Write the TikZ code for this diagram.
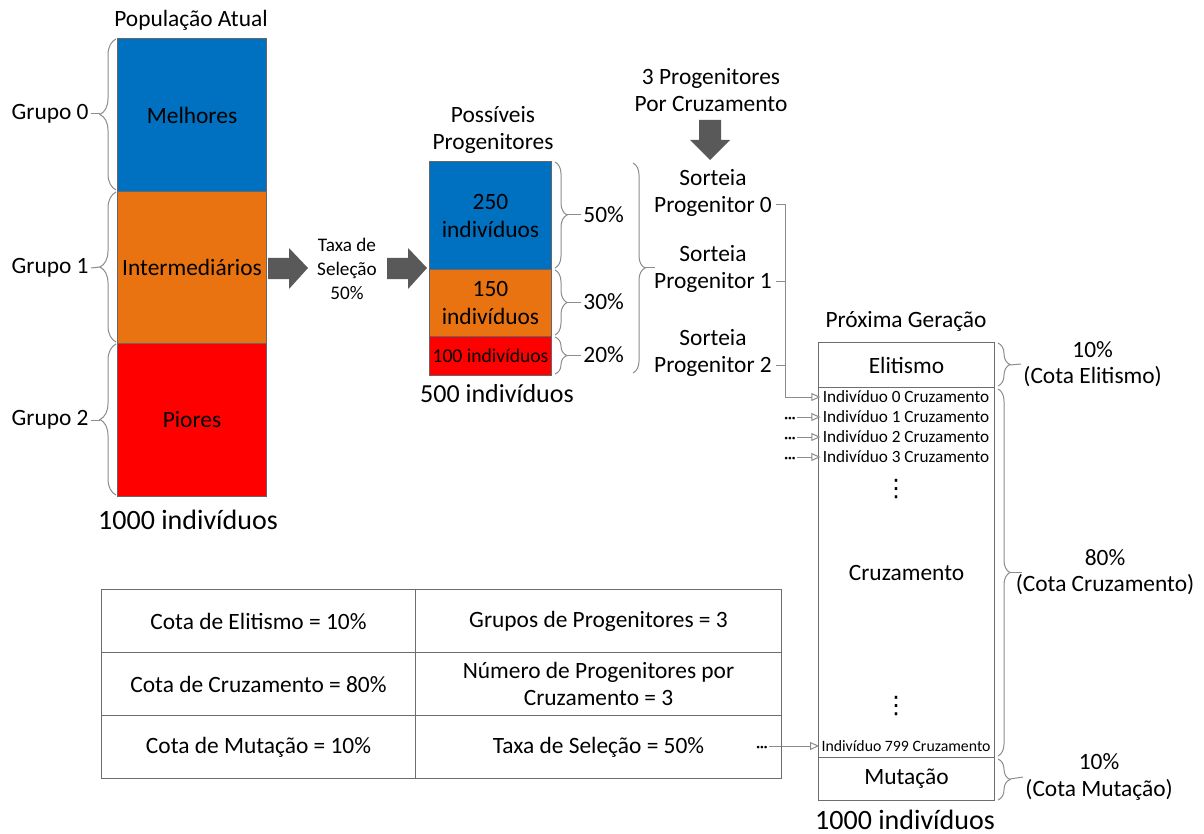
\documentclass[tikz,border=0pt]{standalone}
\usepackage{fontspec}
\setmainfont{Carlito}
\newfontfamily\symfont{DejaVu Sans}
\usetikzlibrary{arrows.meta,decorations.pathreplacing,calc}
\definecolor{popblue}{HTML}{0070C0}
\definecolor{poporange}{HTML}{E97311}
\definecolor{popred}{HTML}{FF0000}
\definecolor{blockgray}{HTML}{595959}
\definecolor{linegray}{HTML}{8C8C8C}
\definecolor{framegray}{HTML}{6E6E6E}

\begin{document}
\begin{tikzpicture}[x=0.5pt,y=-0.5pt,
  txt/.style={font=\fontsize{11.7}{13.3}\selectfont, align=center, inner sep=1pt},
  bigtxt/.style={font=\fontsize{14}{16}\selectfont, inner sep=1pt},
  midtxt/.style={font=\fontsize{13}{15}\selectfont, inner sep=1pt},
  smalltxt/.style={font=\fontsize{9.6}{12}\selectfont, align=center, inner sep=1pt},
  block/.style={draw=black!60, line width=0.5pt, inner sep=0pt, anchor=north west,
    font=\fontsize{11.7}{14}\selectfont, align=center},
  gbox/.style={draw=framegray, line width=0.5pt, inner sep=0pt, anchor=north west,
    minimum width=88pt, font=\fontsize{11.7}{13.3}\selectfont},
  rowtxt/.style={font=\fontsize{8.6}{10}\selectfont, inner sep=1pt},
  dotstxt/.style={font=\bfseries\fontsize{7}{7}\selectfont, inner sep=0.5pt},
  vdotstxt/.style={font=\symfont\fontsize{12}{12}\selectfont, inner sep=0pt},
  cellL/.style={draw=framegray, line width=0.5pt, minimum width=157pt, minimum height=31.5pt,
    anchor=north west, inner sep=0pt, font=\fontsize{11.7}{13.5}\selectfont, align=center},
  cellR/.style={cellL, minimum width=183pt},
  bracel/.style={decorate, decoration={brace, amplitude=8pt}, draw=linegray, line width=0.5pt},
  bracer/.style={decorate, decoration={brace, amplitude=#1}, draw=linegray, line width=0.5pt},
  tick/.style={draw=linegray, line width=0.5pt},
  conn/.style={draw=linegray, line width=0.5pt},
  feed/.style={conn, -{Triangle[open, length=4.5pt, width=4pt]}}
]
\useasboundingbox (0,0) rectangle (1204,834);

% ---------- current population ----------
\node[txt] (popt) at (191,20) {População Atual};
\node[block, fill=popblue, minimum width=74.5pt, minimum height=76.5pt] (best) at (117,38) {Melhores};
\node[block, fill=poporange, minimum width=74.5pt, minimum height=76pt] (midg) at (117,191) {Intermediários};
\node[block, fill=popred, minimum width=74.5pt, minimum height=76.5pt] (worst) at (117,343) {Piores};
\node[bigtxt] (popn) at (188,520) {1000 indivíduos};

\draw[bracel] (116,190) -- (116,39);
\draw[bracel] (116,342) -- (116,192);
\draw[bracel] (116,495) -- (116,344);
\node[txt, anchor=east] (g0) at (91,114) {Grupo 0};
\node[txt, anchor=east] (g1) at (91,268) {Grupo 1};
\node[txt, anchor=east] (g2) at (91,420) {Grupo 2};
\coordinate (g0tip) at (100,114);
\coordinate (g1tip) at (100,267);
\coordinate (g2tip) at (100,420);
\draw[tick] (g0.east) -- (g0tip);
\draw[tick] (g1.east) -- (g1tip);
\draw[tick] (g2.east) -- (g2tip);

% ---------- selection arrows ----------
\fill[blockgray] (268,258) -- (289,258) -- (289,248) -- (308,268) -- (289,289) -- (289,279) -- (268,279) -- cycle;
\node[smalltxt] (rate) at (347,269) {Taxa de\\Seleção\\50\%};
\fill[blockgray] (387,258) -- (408,258) -- (408,248) -- (427,268) -- (408,289) -- (408,279) -- (387,279) -- cycle;

% ---------- possible parents ----------
\node[txt] (posst) at (493,130) {Possíveis\\Progenitores};
\node[block, fill=popblue, minimum width=61pt, minimum height=54pt] (p250) at (429,161) {250\\indivíduos};
\node[block, fill=poporange, minimum width=61pt, minimum height=33.5pt] (p150) at (429,269) {150\\indivíduos};
\node[block, fill=popred, minimum width=61pt, minimum height=19.5pt, font=\fontsize{9.8}{11}\selectfont] (p100) at (429,336) {100 indivíduos};
\node[midtxt] (possn) at (497,394) {500 indivíduos};

\draw[bracer=6pt] (555,162) -- (555,268);
\draw[bracer=6pt] (555,270) -- (555,335);
\draw[bracer=6pt] (555,337) -- (555,374);
\coordinate (b50) at (567,215);
\coordinate (b30) at (567,302);
\coordinate (b20) at (567,355);
\node[txt, anchor=west] (l50) at (581,215) {50\%};
\node[txt, anchor=west] (l30) at (581,302) {30\%};
\node[txt, anchor=west] (l20) at (581,355) {20\%};
\draw[tick] (b50) -- (l50.west);
\draw[tick] (b30) -- (l30.west);
\draw[tick] (b20) -- (l20.west);

\draw[bracer=6pt] (633,163) -- (633,373);
\coordinate (ball) at (645,268);
\coordinate (balle) at (655,268);
\draw[tick] (ball) -- (balle);

% ---------- parent draw ----------
\node[txt] (ppc) at (711,90) {3 Progenitores\\Por Cruzamento};
\fill[blockgray] (699,120) -- (721,120) -- (721,140) -- (730,140) -- (710,160) -- (690,140) -- (699,140) -- cycle;

\node[txt] (s0) at (713,193) {Sorteia\\Progenitor 0};
\node[txt] (s1) at (713,269) {Sorteia\\Progenitor 1};
\node[txt] (s2) at (713,353) {Sorteia\\Progenitor 2};
\coordinate (a0) at ($(s0.east)+(2,12)$);
\coordinate (a1) at ($(s1.east)+(2,12)$);
\coordinate (a2) at ($(s2.east)+(2,12)$);
\coordinate (bus) at (785,397);

% ---------- next generation ----------
\node[txt] (nextt) at (906,321) {Próxima Geração};
\node[gbox, minimum height=22.5pt] (elit) at (818,342) {Elitismo};
\node[gbox, minimum height=185pt] (cruz) at (818,387) {Cruzamento};
\node[gbox, minimum height=21.5pt] (mut) at (818,757) {Mutação};
\node[bigtxt] (nextn) at (905,820) {1000 indivíduos};

\node[rowtxt] (r0) at (906,397) {Indivíduo 0 Cruzamento};
\node[rowtxt] (r1) at (906,417) {Indivíduo 1 Cruzamento};
\node[rowtxt] (r2) at (906,437) {Indivíduo 2 Cruzamento};
\node[rowtxt] (r3) at (906,457) {Indivíduo 3 Cruzamento};
\node[rowtxt, font=\fontsize{7.9}{9}\selectfont] (r799) at (906,746) {Indivíduo 799 Cruzamento};
\node[vdotstxt] (vd1) at (896,489) {⋮};
\node[vdotstxt] (vd2) at (896,706) {⋮};

\node[dotstxt] (d1) at (790,420) {···};
\node[dotstxt] (d2) at (790,440) {···};
\node[dotstxt] (d3) at (790,460) {···};
\node[dotstxt] (d799) at (762,749) {···};

\draw[feed] (a0) -| (bus) -- (r0.west);
\draw[conn] (a1) -- (a1 -| bus);
\draw[conn] (a2) -- (a2 -| bus);
\draw[feed] (d1.east |- r1.west) -- (r1.west);
\draw[feed] (d2.east |- r2.west) -- (r2.west);
\draw[feed] (d3.east |- r3.west) -- (r3.west);
\draw[feed] (d799.east |- r799.west) -- (r799.west);

\draw[bracer=6pt] (998,343) -- (998,386);
\draw[bracer=6pt] (998,389) -- (998,756);
\draw[bracer=6pt] (998,759) -- (998,800);
\coordinate (be) at (1010,365);
\coordinate (bc) at (1010,572);
\coordinate (bm) at (1010,779);
\coordinate (bce) at (1022,572);
\node[txt, anchor=west] (le) at (1021,364) {10\%\\(Cota Elitismo)};
\node[txt] (lc) at (1105,572) {80\%\\(Cota Cruzamento)};
\node[txt, anchor=west] (lm) at (1023,777) {10\%\\(Cota Mutação)};
\draw[tick] (be) -- (le.west);
\draw[tick] (bc) -- (bce);
\draw[tick] (bm) -- (lm.west);

% ---------- parameter table ----------
\node[cellL] (t11) at (101,589) {Cota de Elitismo = 10\%};
\node[cellR] (t12) at (415,589) {Grupos de Progenitores = 3};
\node[cellL] (t21) at (101,652) {Cota de Cruzamento = 80\%};
\node[cellR] (t22) at (415,652) {Número de Progenitores por\\Cruzamento = 3};
\node[cellL] (t31) at (101,715) {Cota de Mutação = 10\%};
\node[cellR] (t32) at (415,715) {Taxa de Seleção = 50\%};
\end{tikzpicture}
\end{document}
